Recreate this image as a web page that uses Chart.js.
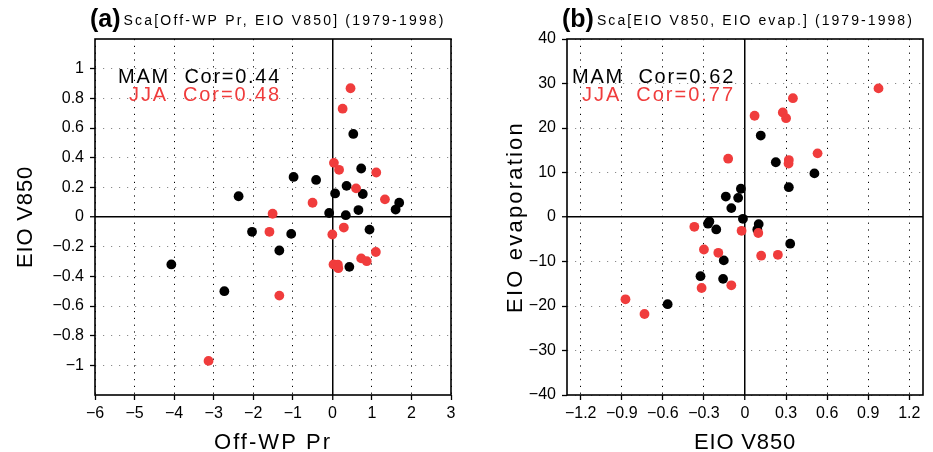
<!DOCTYPE html>
<html><head><meta charset="utf-8">
<script src="https://cdn.jsdelivr.net/npm/chart.js@4/dist/chart.umd.min.js"></script>
<style>
html,body{margin:0;padding:0;background:#fff;}
#wrap{position:relative;width:933px;height:452px;overflow:hidden;}
#ca{position:absolute;left:0;top:0;}
#cb{position:absolute;left:466px;top:0;}
</style></head><body>
<div id="wrap"><canvas id="ca" width="466" height="452"></canvas><canvas id="cb" width="467" height="452"></canvas></div>
<script>
// ---------- Panel (a): Off-WP Pr vs EIO V850 ----------
const mamPrA   = [-4.07,-2.73,-2.37,-2.03,-1.34,-1.04,-0.98,-0.41,-0.08,0.07,0.34,0.36,0.53,0.66,0.73,0.77,0.94,0.43,1.60,1.69];
const mamV850A = [-0.32,-0.50,0.14,-0.10,-0.226,-0.114,0.27,0.25,0.027,0.159,0.012,0.21,0.56,0.047,0.327,0.155,-0.085,-0.336,0.05,0.096];
const jjaPrA   = [-3.13,-1.59,-1.51,-1.34,-0.50,0.00,0.29,0.04,0.17,0.26,0.46,0.60,1.11,1.33,1.10,0.73,0.87,0.03,0.14,0.15];
const jjaV850A = [-0.97,-0.10,0.022,-0.53,0.096,-0.118,-0.071,0.365,0.318,0.73,0.868,0.193,0.30,0.119,-0.236,-0.279,-0.298,-0.32,-0.322,-0.345];
const xTicksA = [-6,-5,-4,-3,-2,-1,0,1,2,3];
const yTicksA = [-1,-0.8,-0.6,-0.4,-0.2,0,0.2,0.4,0.6,0.8,1];

// ---------- Panel (b): EIO V850 vs EIO evaporation ----------
const mamV850B = [0.115,0.225,0.507,0.32,-0.03,-0.14,-0.05,-0.10,-0.015,-0.26,-0.27,-0.21,0.10,0.09,0.33,-0.155,-0.325,-0.16,-0.565];
const mamEvapB = [18.3,12.3,9.8,6.7,6.35,4.6,4.3,2.0,-0.4,-1.0,-1.5,-2.8,-1.6,-2.8,-6.0,-9.75,-13.3,-13.9,-19.6];
const jjaV850B = [0.975,0.35,0.07,0.276,0.30,-0.123,0.53,0.32,0.318,-0.37,-0.025,0.097,-0.30,-0.195,0.118,0.24,-0.317,-0.10,-0.873,-0.734];
const jjaEvapB = [28.9,26.7,22.75,23.5,22.2,13.1,14.3,12.8,12.0,-2.2,-3.1,-3.6,-7.3,-8.05,-8.7,-8.5,-15.95,-15.35,-18.5,-21.8];
const xTicksB = [-1.2,-0.9,-0.6,-0.3,0,0.3,0.6,0.9,1.2];
const yTicksB = [-40,-30,-20,-10,0,10,20,30,40];

const corA = ['MAM  Cor=0.44','JJA  Cor=0.48'];
const corB = ['MAM  Cor=0.62','JJA  Cor=0.77'];

const RED = 'rgb(240,60,60)';
const FAM = "'Liberation Sans', Arial, sans-serif";

function fmt(v){
  const r = Math.round(v*100)/100;
  if (r === 0) return '0';
  return (r < 0 ? '\u2212' : '') + String(Math.abs(r));
}
function pts(xs, ys){ return xs.map((x,i)=>({x:x, y:ys[i]})); }

function fitText(ctx, text, x, y, target, align){
  ctx.letterSpacing = '0px';
  const w0 = ctx.measureText(text).width;
  const ls = (target - w0) / text.length;
  ctx.letterSpacing = ls.toFixed(2) + 'px';
  const w = ctx.measureText(text).width;
  ctx.textAlign = 'left';
  let sx = x;
  if (align === 'right') sx = x - w;
  else if (align === 'center') sx = x - w / 2;
  ctx.fillText(text, sx, y);
  ctx.letterSpacing = '0px';
}

function axis(pos, min, max, ticks, size, gridCol, dash){
  const horiz = pos === 'bottom';
  return {
    type:'linear', position:pos, min:min, max:max,
    afterBuildTicks: s => { s.ticks = ticks.map(v=>({value:v})); },
    afterFit: s => { if (horiz) s.height = size; else s.width = size; },
    ticks:{ callback: v => fmt(v), color:'#000', font:{family:FAM, size:16}, padding: horiz?4:6, maxRotation:0, autoSkip:false },
    grid:{
      color: c => (c.tick && Math.abs(c.tick.value) < 1e-9) ? '#000' : gridCol,
      lineWidth: c => (c.tick && Math.abs(c.tick.value) < 1e-9) ? 1.5 : 1,
      drawTicks:true, tickLength:5, tickColor:'#000', tickWidth:1.3, tickBorderDash:[]
    },
    border:{ display:false, dash: c => (c.tick && Math.abs(c.tick.value) < 1e-9) ? [] : dash },
    title:{ display:false }
  };
}

function decor(label, head, headW, cor, corRight, xt, yt){
  return {
    id:'decor'+label,
    beforeDatasetsDraw(chart){
      const a = chart.chartArea, ctx = chart.ctx;
      ctx.save();
      ctx.strokeStyle = '#000'; ctx.lineWidth = 1.6;
      ctx.strokeRect(a.left, a.top, a.right - a.left, a.bottom - a.top);
      ctx.restore();
    },
    afterDraw(chart){
      const ctx = chart.ctx, a = chart.chartArea;
      ctx.save();
      ctx.fillStyle = '#000';
      ctx.textBaseline = 'alphabetic';
      ctx.font = "bold 25px " + FAM;
      ctx.textAlign = 'left';
      ctx.fillText('(' + label + ')', head.x, 27);
      const lw = ctx.measureText('(' + label + ')').width;
      ctx.font = "14px " + FAM;
      fitText(ctx, head.text, head.x + lw + 3, 25, headW, 'left');
      // correlation annotations
      ctx.font = "20px " + FAM;
      ctx.fillStyle = '#000';
      fitText(ctx, cor[0], corRight, 83, cor[2], 'right');
      ctx.fillStyle = RED;
      fitText(ctx, cor[1], corRight, 101, cor[3], 'right');
      // axis titles
      ctx.fillStyle = '#000';
      ctx.font = "22px " + FAM;
      fitText(ctx, xt.text, (a.left + a.right) / 2, 449, xt.w, 'center');
      ctx.save();
      ctx.translate(yt.x, (a.top + a.bottom) / 2);
      ctx.rotate(-Math.PI / 2);
      fitText(ctx, yt.text, 0, 0, yt.w, 'center');
      ctx.restore();
      ctx.restore();
    }
  };
}

function makeChart(id, dsM, dsJ, scales, plugin, pad){
  return new Chart(document.getElementById(id), {
    type:'scatter',
    data:{ datasets:[
      { label:'JJA', data:dsJ, backgroundColor:RED, borderWidth:0, pointRadius:4.9, pointHoverRadius:4.9 },
      { label:'MAM', data:dsM, backgroundColor:'#000', borderWidth:0, pointRadius:4.9, pointHoverRadius:4.9 }
    ]},
    options:{
      responsive:false, animation:false, devicePixelRatio:1,
      layout:{ padding:pad },
      plugins:{ legend:{display:false}, tooltip:{enabled:false}, title:{display:false} },
      scales: scales
    },
    plugins:[plugin]
  });
}

makeChart('ca', pts(mamPrA, mamV850A), pts(jjaPrA, jjaV850A), {
  x: axis('bottom', -6, 3, xTicksA, 57, '#000', [1.2,5.6]),
  y: axis('left', -1.2, 1.2, yTicksA, 95, '#8a8a8a', [1.2,6.8])
}, decor('a', {x:90, text:'Sca[Off-WP Pr, EIO V850] (1979-1998)'}, 322, [corA[0], corA[1], 163, 152], 281,
   {text:'Off-WP Pr', w:118}, {text:'EIO V850', x:32, w:102}),
{left:0, top:39, right:15, bottom:0});

makeChart('cb', pts(mamV850B, mamEvapB), pts(jjaV850B, jjaEvapB), {
  x: axis('bottom', -1.3, 1.3, xTicksB, 57, '#000', [1.2,5.6]),
  y: axis('left', -40, 40, yTicksB, 101, '#8a8a8a', [1.2,6.8])
}, decor('b', {x:96, text:'Sca[EIO V850, EIO evap.] (1979-1998)'}, 317, [corB[0], corB[1], 163, 153], 269,
   {text:'EIO V850', w:102}, {text:'EIO evaporation', x:56, w:192}),
{left:0, top:39, right:10, bottom:0});
</script>
</body></html>
